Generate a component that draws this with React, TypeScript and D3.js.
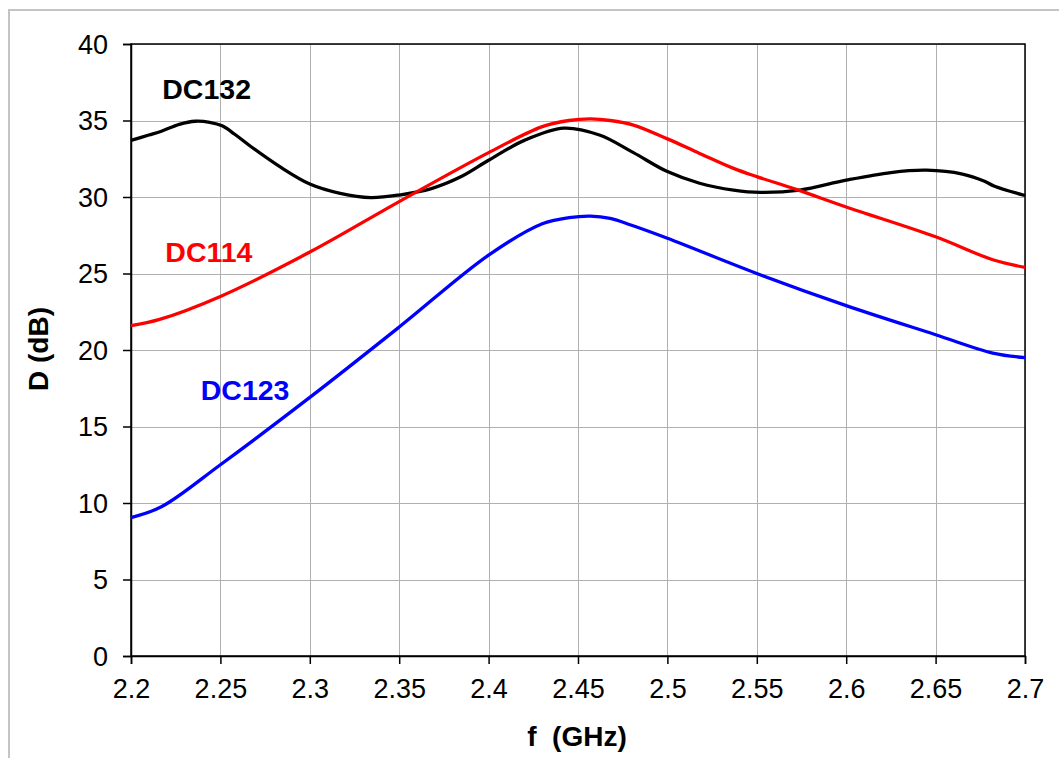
import React, {useEffect, useRef} from 'react';
import * as d3 from 'd3';

const WIDTH = 1059;
const HEIGHT = 758;

// plot area
const margin = {top: 44, right: 34, bottom: 102, left: 131};

const xTicks = [2.2, 2.25, 2.3, 2.35, 2.4, 2.45, 2.5, 2.55, 2.6, 2.65, 2.7];
const yTicks = [0, 5, 10, 15, 20, 25, 30, 35, 40];

// DC132 (black)
const dc132Freq = [
  2.2, 2.21, 2.217, 2.227, 2.236, 2.244, 2.251, 2.258, 2.267, 2.283, 2.3,
  2.317, 2.334, 2.35, 2.368, 2.385, 2.4, 2.42, 2.442, 2.462, 2.481, 2.5,
  2.518, 2.537, 2.552, 2.574, 2.6, 2.625, 2.645, 2.665, 2.677, 2.683, 2.7,
];
const dc132Values = [
  33.7, 34.05, 34.3, 34.75, 34.95, 34.88, 34.65, 34.1, 33.3, 32.0, 30.85,
  30.24, 29.96, 30.13, 30.55, 31.35, 32.4, 33.7, 34.5, 34.05, 32.9, 31.66,
  30.9, 30.45, 30.3, 30.45, 31.1, 31.6, 31.75, 31.5, 31.05, 30.7, 30.1,
];

// DC114 (red)
const dc114Freq = [
  2.2, 2.216, 2.25, 2.3, 2.35, 2.4, 2.43, 2.445, 2.457, 2.468, 2.481, 2.5,
  2.518, 2.537, 2.55, 2.572, 2.6, 2.65, 2.682, 2.7,
];
const dc114Values = [
  21.6, 22.0, 23.5, 26.4, 29.7, 32.9, 34.6, 35.0, 35.1, 35.0, 34.7, 33.8,
  32.85, 31.87, 31.33, 30.5, 29.35, 27.4, 25.9, 25.4,
];

// DC123 (blue)
const dc123Freq = [
  2.2, 2.217, 2.25, 2.3, 2.35, 2.4, 2.43, 2.445, 2.457, 2.468, 2.48, 2.5,
  2.55, 2.6, 2.65, 2.682, 2.7,
];
const dc123Values = [
  9.05, 9.75, 12.5, 16.9, 21.5, 26.2, 28.25, 28.65, 28.75, 28.6, 28.15, 27.3,
  25.0, 22.9, 21.0, 19.8, 19.5,
];

const seriesNames = ['DC132', 'DC114', 'DC123'];
const seriesColors = ['#000000', '#ff0000', '#0000ff'];
const seriesFreq = [dc132Freq, dc114Freq, dc123Freq];
const seriesValues = [dc132Values, dc114Values, dc123Values];
// label anchor (frequency, dB) for each series name
const labelFreq = [2.2175, 2.2192, 2.239];
const labelValue = [36.4, 25.75, 16.75];

const FONT = '"Liberation Sans", Arial, sans-serif';

export default function App() {
  const svgRef = useRef<SVGSVGElement | null>(null);

  useEffect(() => {
    const svg = d3.select(svgRef.current);
    svg.selectAll('*').remove();

    const x = d3
      .scaleLinear()
      .domain([2.2, 2.7])
      .range([margin.left, WIDTH - margin.right]);
    const y = d3
      .scaleLinear()
      .domain([0, 40])
      .range([HEIGHT - margin.bottom, margin.top]);

    svg
      .append('rect')
      .attr('width', WIDTH)
      .attr('height', HEIGHT)
      .attr('fill', '#fff');

    // outer chart border (runs off right / bottom)
    svg
      .append('path')
      .attr('d', `M9,${HEIGHT + 5}V10H${WIDTH + 5}`)
      .attr('fill', 'none')
      .attr('stroke', '#c4c4c4')
      .attr('stroke-width', 2);

    // gridlines
    const grid = svg.append('g').attr('stroke', '#b0b0b0').attr('stroke-width', 1);
    grid
      .selectAll('line.v')
      .data(xTicks)
      .enter()
      .append('line')
      .attr('x1', d => Math.round(x(d)) + 0.5)
      .attr('x2', d => Math.round(x(d)) + 0.5)
      .attr('y1', y(40))
      .attr('y2', y(0));
    grid
      .selectAll('line.h')
      .data(yTicks)
      .enter()
      .append('line')
      .attr('x1', x(2.2))
      .attr('x2', x(2.7))
      .attr('y1', d => Math.round(y(d)) + 0.5)
      .attr('y2', d => Math.round(y(d)) + 0.5);

    // plot frame
    svg
      .append('rect')
      .attr('x', x(2.2))
      .attr('y', y(40))
      .attr('width', x(2.7) - x(2.2))
      .attr('height', y(0) - y(40))
      .attr('fill', 'none')
      .attr('stroke', '#000')
      .attr('stroke-width', 1.5);

    // axes
    const xAxis = svg
      .append('g')
      .attr('transform', `translate(0,${y(0)})`)
      .call(
        d3
          .axisBottom(x)
          .tickValues(xTicks)
          .tickSize(8)
          .tickPadding(13)
          .tickFormat(d => String(d))
      );
    const yAxis = svg
      .append('g')
      .attr('transform', `translate(${x(2.2)},0)`)
      .call(
        d3
          .axisLeft(y)
          .tickValues(yTicks)
          .tickSize(8)
          .tickPadding(15)
          .tickFormat(d => String(d))
      );
    [xAxis, yAxis].forEach(a => {
      a.select('.domain').attr('stroke', '#000').attr('stroke-width', 1.5);
      a.selectAll('.tick line').attr('stroke', '#000').attr('stroke-width', 1.5);
      a.selectAll('.tick text')
        .attr('fill', '#000')
        .style('font-family', FONT)
        .style('font-size', '27px');
    });
    xAxis.selectAll('.tick text').attr('dy', '0.76em');
    yAxis.selectAll('.tick text').attr('dy', '0.35em');

    // axis titles
    svg
      .append('text')
      .attr('x', 577)
      .attr('y', 746)
      .attr('text-anchor', 'middle')
      .style('font-family', FONT)
      .style('font-size', '28px')
      .style('font-weight', 'bold')
      .style('white-space', 'pre')
      .text('f  (GHz)');
    svg
      .append('text')
      .attr('transform', `translate(48,349) rotate(-90)`)
      .attr('text-anchor', 'middle')
      .style('font-family', FONT)
      .style('font-size', '28px')
      .style('font-weight', 'bold')
      .text('D (dB)');

    // curves
    const line = d3
      .line<[number, number]>()
      .x(d => x(d[0]))
      .y(d => y(d[1]))
      .curve(d3.curveCatmullRom.alpha(0.5));

    seriesNames.forEach((name, i) => {
      const pts = seriesFreq[i].map((f, j) => [f, seriesValues[i][j]] as [number, number]);
      svg
        .append('path')
        .datum(pts)
        .attr('d', line)
        .attr('fill', 'none')
        .attr('stroke', seriesColors[i])
        .attr('stroke-width', 3.3)
        .attr('stroke-linejoin', 'round');

      svg
        .append('text')
        .attr('x', x(labelFreq[i]))
        .attr('y', y(labelValue[i]))
        .attr('fill', seriesColors[i])
        .style('font-family', FONT)
        .style('font-size', '28.5px')
        .style('font-weight', 'bold')
        .text(name);
    });
  }, []);

  return (
    <svg
      ref={svgRef}
      width={WIDTH}
      height={HEIGHT}
      style={{position: 'absolute', left: 0, top: 0, display: 'block'}}
    />
  );
}
